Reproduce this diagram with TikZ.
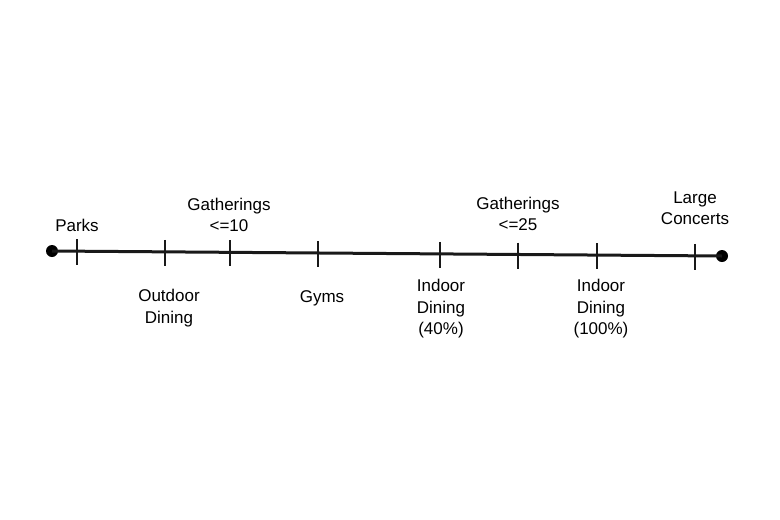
\documentclass[tikz,border=0pt]{standalone}
\usepackage{fontspec}
\setmainfont{Liberation Sans}
\usepackage{tikz}

\begin{document}
\begin{tikzpicture}[
    x=1pt, y=-1pt,
    end_dot/.style={circle, fill=black, inner sep=0pt, minimum size=12pt},
    axis_line/.style={line width=3pt, draw=black!90},
    tick_line/.style={line width=2pt, draw=black!90},
    lbl/.style={align=center, font=\fontsize{17}{21.5}\selectfont, inner sep=0pt}
]
    \useasboundingbox (0,0) rectangle (780,520);

    % End points of the time line
    \node (dot_left) [end_dot] at (52, 251) {};
    \node (dot_right) [end_dot] at (722, 256) {};
    \draw [axis_line] (dot_left.center) -- (dot_right.center);

    % Tick marks
    \coordinate (tick1) at (77, 251.2);
    \coordinate (tick2) at (165, 251.8);
    \coordinate (tick3) at (230, 252.3);
    \coordinate (tick4) at (318, 253);
    \coordinate (tick5) at (440, 253.9);
    \coordinate (tick6) at (518, 254.5);
    \coordinate (tick7) at (597, 255.1);
    \coordinate (tick8) at (695, 255.8);
    \foreach \t in {1,...,8}
        \draw [tick_line] (tick\t) ++(0, -12) -- ++(0, 26);

    % Labels above the line
    \node (parks_label) [lbl] at (77, 225) {Parks};
    \node (gath10_label) [lbl] at (229, 215) {Gatherings\\<=10};
    \node (gath25_label) [lbl] at (518, 214) {Gatherings\\<=25};
    \node (concerts_label) [lbl] at (695, 208) {Large\\Concerts};

    % Labels below the line
    \node (outdoor_label) [lbl] at (169, 308) {Outdoor\\Dining};
    \node (gyms_label) [lbl] at (322, 298) {Gyms};
    \node (indoor40_label) [lbl] at (441, 309) {Indoor\\Dining\\(40\%)};
    \node (indoor100_label) [lbl] at (601, 309) {Indoor\\Dining\\(100\%)};
\end{tikzpicture}
\end{document}
